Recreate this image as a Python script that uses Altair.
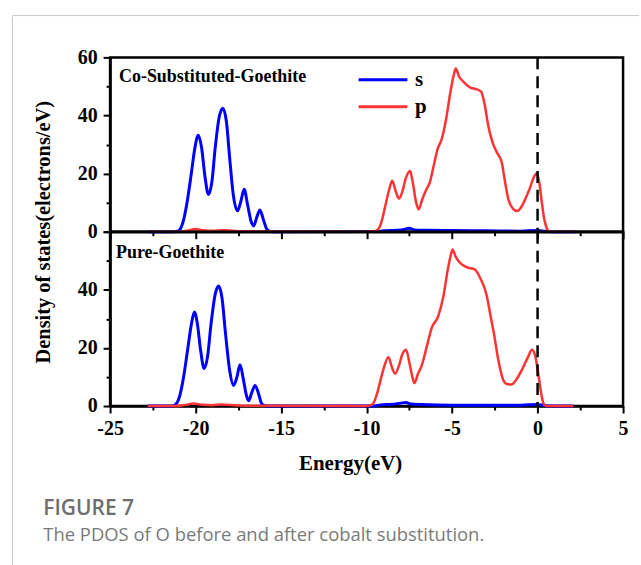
import altair as alt
import pandas as pd

# ---------------- data ----------------
co_s_E = [-22.8, -21.3, -21.0, -20.75, -20.5, -20.25, -20.05, -19.84, -19.65, -19.45, -19.25,
          -19.05, -18.85, -18.6, -18.4, -18.2, -18.0, -17.8, -17.55, -17.35, -17.16, -16.95,
          -16.75, -16.6, -16.42, -16.24, -16.05, -15.85, -15.7, -15.5, -9.5, -9.0, -8.3, -7.8,
          -7.5, -7.2, -6.5, -5.0, -3.0, -1.0, 0.0, 0.4, 0.8, 2.2]
co_s_D = [0, 0, 0.3, 3, 10, 20, 28.5, 33.2, 29, 19, 12.8,
          17, 29, 40, 42.5, 38, 25, 13, 7.2, 10.5, 14.6, 9,
          3.5, 2.0, 5, 7.5, 4.5, 1, 0.2, 0, 0.05, 0.3, 0.5, 0.8,
          1.2, 0.6, 0.5, 0.4, 0.3, 0.2, 0.4, 0.2, 0, 0]

co_p_E = [-22.8, -21.0, -20.5, -20.0, -19.6, -19.0, -18.3, -17.5, -16.0, -10.0, -9.5, -9.3,
          -9.1, -8.9, -8.7, -8.5, -8.3, -8.1, -7.9, -7.7, -7.45, -7.3, -7.1, -6.95, -6.75,
          -6.5, -6.3, -6.1, -5.85, -5.6, -5.35, -5.1, -4.9, -4.78, -4.6, -4.3, -3.9, -3.6,
          -3.3, -3.1, -2.9, -2.65, -2.35, -2.1, -1.9, -1.7, -1.45, -1.2, -0.95, -0.7, -0.45,
          -0.2, -0.05, 0.1, 0.25, 0.4, 0.55, 0.7, 2.3]
co_p_D = [0, 0, 0.3, 0.9, 0.5, 0.3, 0.5, 0.2, 0.1, 0, 0.2, 1,
          4, 9, 14, 17.5, 14, 11.4, 14, 18.5, 20.9, 17, 10, 7.7, 11,
          14.6, 17, 22, 28.4, 32, 38.7, 48, 54, 56.2, 53.5, 51.4, 49.5, 49.1,
          48.2, 44, 37, 31, 27, 24, 17, 11, 8, 7.1, 8.5, 11.5, 15,
          19, 20.1, 17, 10, 4, 1, 0, 0]

pure_s_E = [-22.8, -21.4, -21.2, -20.95, -20.7, -20.45, -20.25, -20.07, -19.9, -19.7, -19.5,
            -19.3, -19.1, -18.85, -18.65, -18.45, -18.25, -18.0, -17.78, -17.58, -17.4, -17.2,
            -17.02, -16.9, -16.72, -16.52, -16.33, -16.15, -16.0, -15.8, -9.6, -9.2, -8.5, -8.0,
            -7.7, -7.4, -6.8, -5.0, -3.0, -1.0, 0.0, 0.4, 0.7, 2.1]
pure_s_D = [0, 0, 0.4, 3, 10, 20, 28, 32.4, 28.5, 19, 12.9,
            17, 28, 38.5, 41.3, 37, 25, 12, 7.1, 10, 14.2, 9,
            3.5, 1.8, 4.5, 7.1, 4.5, 1, 0.2, 0, 0, 0.4, 0.6, 1.0,
            1.2, 0.7, 0.5, 0.3, 0.3, 0.3, 0.5, 0.2, 0, 0]

pure_p_E = [-22.8, -21.2, -20.6, -20.1, -19.6, -19.0, -18.5, -17.5, -16.0, -10.2, -9.8, -9.6,
            -9.4, -9.2, -9.0, -8.72, -8.5, -8.33, -8.1, -7.9, -7.69, -7.5, -7.3, -7.2, -7.0,
            -6.77, -6.5, -6.19, -5.81, -5.5, -5.25, -5.05, -4.97, -4.8, -4.54, -4.15, -3.67,
            -3.35, -2.99, -2.75, -2.56, -2.3, -2.02, -1.8, -1.53, -1.2, -0.86, -0.55, -0.33,
            -0.15, 0.02, 0.18, 0.35, 0.5, 2.1]
pure_p_D = [0, 0, 0.4, 0.9, 0.4, 0.3, 0.5, 0.2, 0.1, 0, 0.2, 1,
            4, 8.5, 13, 16.8, 13, 11.1, 14, 18, 19.4, 15, 9.5, 7.9, 11,
            14.0, 20, 26.9, 30.9, 38, 47, 52.5, 53.9, 51.5, 49.3, 47.8, 47.0,
            44, 38.4, 31, 25.2, 16, 9.1, 7.6, 7.4, 9.5, 13.1, 17, 19.4,
            17.5, 12.0, 5.5, 0.8, 0, 0]

x_ticks = [-25 + 2.5 * i for i in range(13)]
y_ticks = [0, 10, 20, 30, 40, 50, 60]
orbitals = ["s", "p"]
panel_labels = ["Co-Substituted-Goethite", "Pure-Goethite"]
caption_title = "FIGURE 7"
caption_text = "The PDOS of O before and after cobalt substitution."

BLUE = "#0000ff"
RED = "#ff3333"
SERIF = "Liberation Serif"
W, H = 515, 175


def frame(E, D, orb):
    return pd.DataFrame({"E": E, "D": D, "orbital": orb})


df_co_s = frame(co_s_E, co_s_D, "s")
df_co_p = frame(co_p_E, co_p_D, "p")
df_pu_s = frame(pure_s_E, pure_s_D, "s")
df_pu_p = frame(pure_p_E, pure_p_D, "p")
zero_df = pd.DataFrame({"E": [0.0]})
one = pd.DataFrame({"a": [0]})

xscale = alt.Scale(domain=[-25, 5], nice=False, zero=False)
yscale = alt.Scale(domain=[0, 60], nice=False)
tick_x = {"condition": {"test": "datum.value % 5 !== 0", "value": 4}, "value": 7}
tick_y = {"condition": {"test": "datum.value % 20 !== 0", "value": 4}, "value": 7}


def x_axis(show_labels):
    kw = dict(values=x_ticks, tickSize=tick_x, labelFlush=False, labelOverlap=False,
              labelPadding=6)
    if show_labels:
        return alt.Axis(title="Energy(eV)",
                        labelExpr="datum.value % 5 === 0 ? ('' + datum.value) : ''",
                        titleFont=SERIF, titleFontWeight="bold", titleFontSize=21,
                        titleX=241, titleY=58, titleBaseline="middle", **kw)
    return alt.Axis(title=None, labels=False, **kw)


def y_axis(top):
    if top:
        return alt.Axis(values=y_ticks, tickSize=tick_y, labelPadding=6,
                        labelExpr="datum.value % 20 === 0 ? datum.label : ''",
                        title="Density of states(electrons/eV)",
                        titleFont=SERIF, titleFontWeight="bold", titleFontSize=20.5,
                        titleX=-67, titleY=H, titleAngle=-90, titleAlign="center",
                        titleBaseline="middle")
    return alt.Axis(values=y_ticks, tickSize=tick_y, labelPadding=6, title=None,
                    labelExpr="datum.value % 20 === 0 && datum.value < 60 ? datum.label : ''")


def lines(ds, dp, top):
    xe = alt.X("E:Q", scale=xscale, axis=x_axis(not top))
    ye = alt.Y("D:Q", scale=yscale, axis=y_axis(top))
    if top:
        col = alt.Color("orbital:N",
                        scale=alt.Scale(domain=orbitals, range=[BLUE, RED]),
                        legend=alt.Legend(title=None, orient="none", legendX=248,
                                          legendY=11, symbolType="M-1,0L3.9,0",
                                          symbolSize=400, symbolStrokeWidth=3,
                                          labelFont=SERIF, labelFontWeight="bold",
                                          labelFontSize=21, labelOffset=35,
                                          rowPadding=5, padding=0))
        s = alt.Chart(ds).mark_line(interpolate="monotone", strokeWidth=3).encode(
            x=xe, y=ye, color=col)
        p = alt.Chart(dp).mark_line(interpolate="monotone", strokeWidth=2.5).encode(
            x=xe, y=ye, color=col)
    else:
        s = alt.Chart(ds).mark_line(interpolate="monotone", strokeWidth=3, color=BLUE).encode(
            x=xe, y=ye)
        p = alt.Chart(dp).mark_line(interpolate="monotone", strokeWidth=2.5, color=RED).encode(
            x=xe, y=ye)
    return s, p


def dashed():
    return alt.Chart(zero_df).mark_rule(color="black", strokeWidth=2.5,
                                        strokeDash=[12, 7]).encode(
        x=alt.X("E:Q", scale=xscale))


def label(txt, dx, dy):
    return alt.Chart(one).mark_text(text=txt, align="left", baseline="middle",
                                    font=SERIF, fontWeight="bold", fontSize=18,
                                    color="black").encode(
        x=alt.value(dx), y=alt.value(dy))


# page frame (light gray lines)
top_rule = alt.Chart(one).mark_rule(color="#c8c8c8", strokeWidth=1).encode(
    x=alt.value(-98), x2=alt.value(531), y=alt.value(-42))
left_rule = alt.Chart(one).mark_rule(color="#c8c8c8", strokeWidth=1).encode(
    x=alt.value(-98), y=alt.value(-216), y2=alt.value(335))

cap1 = alt.Chart(one).mark_text(text=caption_title, align="left", baseline="middle",
                                font="Open Sans", fontWeight=600, fontSize=21,
                                color="#6e6e6e").encode(x=alt.value(-67), y=alt.value(278))
cap2 = alt.Chart(one).mark_text(text=caption_text, align="left", baseline="middle",
                                font="Open Sans", fontSize=18.5,
                                color="#7a7a7a").encode(x=alt.value(-67), y=alt.value(305))

s1, p1 = lines(df_co_s, df_co_p, True)
s2, p2 = lines(df_pu_s, df_pu_p, False)

top = alt.layer(top_rule, s1, p1, dashed(), label(panel_labels[0], 9, 20)).properties(
    width=W, height=H)
bottom = alt.layer(left_rule, s2, p2, dashed(), label(panel_labels[1], 6, 21),
                   cap1, cap2).properties(width=W, height=H)

chart = alt.vconcat(top, bottom, spacing=0, bounds="flush").properties(
    padding={"left": 10.5, "top": 12.5, "right": 0, "bottom": 0},
    background="white",
).configure_view(stroke="black", strokeWidth=2.5).configure_axis(
    grid=False, domainColor="black", domainWidth=2.5, tickColor="black", tickWidth=2,
    labelFont=SERIF, labelFontWeight="bold", labelFontSize=20, labelColor="black",
    titleColor="black",
)

chart.save("out.html", embed_options={"renderer": "svg", "actions": False})
